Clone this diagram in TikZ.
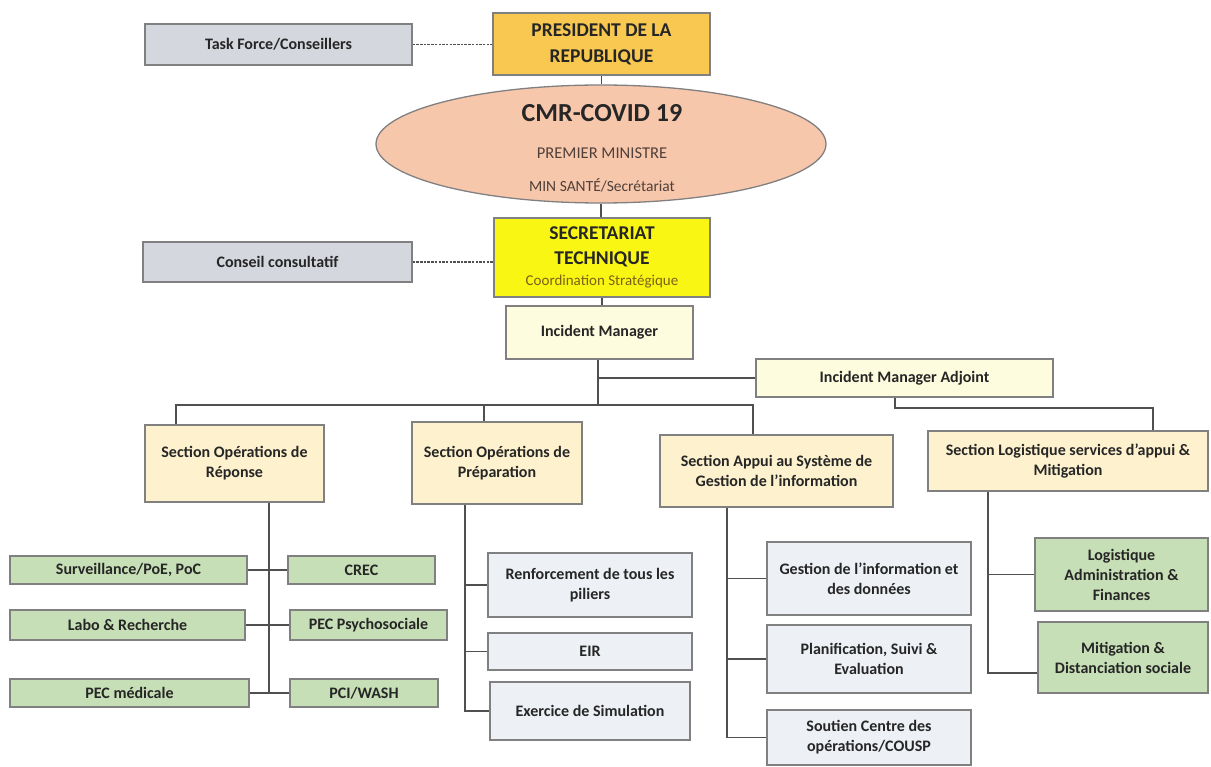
\documentclass[tikz,border=0pt]{standalone}
\usepackage{fontspec}
\setmainfont{Carlito}
\usetikzlibrary{shapes.geometric}
\definecolor{bordergray}{RGB}{128,128,128}
\definecolor{linegray}{RGB}{80,80,80}
\definecolor{txt}{RGB}{38,38,38}
\definecolor{grayfill}{RGB}{212,215,221}
\definecolor{presfill}{RGB}{248,200,80}
\definecolor{ellfill}{RGB}{247,199,172}
\definecolor{secfill}{RGB}{250,246,20}
\definecolor{imfill}{RGB}{253,252,222}
\definecolor{sectfill}{RGB}{253,241,206}
\definecolor{greenfill}{RGB}{199,223,182}
\definecolor{bluefill}{RGB}{237,240,245}
\definecolor{coordtxt}{RGB}{122,98,20}
\definecolor{ministxt}{RGB}{80,64,58}
\pgfdeclarelayer{background}
\pgfsetlayers{background,main}
\begin{document}
\begin{tikzpicture}[x=1pt,y=-1pt,
  box/.style={draw=bordergray,line width=1.3pt,inner sep=0pt,align=center,text=txt,
    font=\fontsize{16}{20}\selectfont\bfseries},
  sz/.style 2 args={minimum width=#1pt,minimum height=#2pt},
  conn/.style={draw=linegray,line width=1.8pt},
  dconn/.style={draw=linegray,line width=1.3pt,dash pattern=on 2.5pt off 1.2pt}]
\useasboundingbox (0,0) rectangle (1211,767);

% top level
\node[box,fill=grayfill,sz={267}{41}] (tf) at (278.5,44.5) {Task Force/Conseillers};
\node[box,fill=presfill,sz={217}{62},font=\fontsize{19.5}{26}\selectfont\bfseries] (pres) at (601.5,44) {PRESIDENT DE LA\\REPUBLIQUE};
\node[ellipse,draw=bordergray,line width=1.3pt,fill=ellfill,sz={450}{118},inner sep=0pt] (ell) at (601,144) {};
\node[text=txt,font=\fontsize{26}{30}\selectfont\bfseries] (cmr) at (602,113) {CMR-COVID 19};
\node[text=ministxt,font=\fontsize{16.5}{20}\selectfont] (pm) at (602,153) {PREMIER MINISTRE};
\node[text=ministxt,font=\fontsize{15.5}{20}\selectfont] (msante) at (602,185) {MIN SANTÉ/Secrétariat};
\node[box,fill=grayfill,sz={269}{40}] (cons) at (277.5,262) {Conseil consultatif};
\node[box,fill=secfill,sz={216}{79},font=\fontsize{19.5}{25}\selectfont\bfseries] (sec) at (602,257.5)
  {SECRETARIAT\\TECHNIQUE\\[-4pt]{\fontsize{15}{18}\selectfont\mdseries\color{coordtxt}Coordination Stratégique}};
\node[box,fill=imfill,sz={187}{53}] (im) at (599.5,332.5) {Incident Manager};
\node[box,fill=imfill,sz={297}{38}] (adj) at (904.5,378) {Incident Manager Adjoint};

% sections
\node[box,fill=sectfill,sz={179}{77}] (s1) at (234.5,463.5) {Section Opérations de\\Réponse};
\node[box,fill=sectfill,sz={170}{82}] (s2) at (497,463) {Section Opérations de\\Préparation};
\node[box,fill=sectfill,sz={233}{72}] (s3) at (776.5,471) {Section Appui au Système de\\Gestion de l’information};
\node[box,fill=sectfill,sz={280}{60}] (s4) at (1068,461) {Section Logistique services d’appui \&\\Mitigation};

% section 1 children
\node[box,fill=greenfill,sz={237}{28}] (surv) at (128.5,570) {Surveillance/PoE, PoC};
\node[box,fill=greenfill,sz={147}{28}] (crec) at (361.5,570) {CREC};
\node[box,fill=greenfill,sz={235}{30}] (labo) at (127.5,625) {Labo \& Recherche};
\node[box,fill=greenfill,sz={157}{30}] (psy) at (368.5,625) {PEC Psychosociale};
\node[box,fill=greenfill,sz={239}{28}] (med) at (129.5,693) {PEC médicale};
\node[box,fill=greenfill,sz={148}{28}] (pci) at (364,693) {PCI/WASH};

% section 2 children
\node[box,fill=bluefill,sz={204}{64}] (renf) at (590,585) {Renforcement de tous les\\piliers};
\node[box,fill=bluefill,sz={204}{37}] (eir) at (590,651.5) {EIR};
\node[box,fill=bluefill,sz={200}{58}] (exer) at (590,711) {Exercice de Simulation};

% section 3 children
\node[box,fill=bluefill,sz={204}{73}] (gest) at (869,578.5) {Gestion de l’information et\\des données};
\node[box,fill=bluefill,sz={204}{68}] (plan) at (869,659) {Planification, Suivi \&\\Evaluation};
\node[box,fill=bluefill,sz={204}{55}] (sout) at (869,737.5) {Soutien Centre des\\opérations/COUSP};

% section 4 children
\node[box,fill=greenfill,sz={173}{73}] (logi) at (1121.5,574.5) {Logistique\\Administration \&\\Finances};
\node[box,fill=greenfill,sz={170}{71}] (miti) at (1123,657.5) {Mitigation \&\\Distanciation sociale};

% connectors
\coordinate (j0) at (598,405);
\coordinate (b1) at (176,405);
\coordinate (b2) at (484,405);
\coordinate (b3) at (753,405);
\coordinate (a1) at (895,408);
\coordinate (a2) at (1153,408);
\coordinate (v1) at (269,0);
\coordinate (v2) at (465,0);
\coordinate (v3) at (727,0);
\coordinate (v4) at (988,0);
\coordinate (m4) at (988,673);

\begin{pgfonlayer}{background}
\draw[dconn] (tf.east) -- (tf.east -| pres.west);
\draw[dconn] (cons.east) -- (cons.east -| sec.west);
\draw[conn] (pres.south) -- (pres.south |- ell.north);
\draw[conn] (ell.south) -- (ell.south |- sec.north);
\draw[conn] (sec.south) -- (sec.south |- im.north);
\draw[conn] (j0 |- im.south) -- (j0);
\draw[conn] (j0 |- adj.west) -- (adj.west);
\draw[conn] (b1 |- s1.north) -- (b1) -- (b3) -- (b3 |- s3.north);
\draw[conn] (b2) -- (b2 |- s2.north);
\draw[conn] (a1 |- adj.south) -- (a1) -- (a2) -- (a2 |- s4.north);

\draw[conn] (v1 |- s1.south) -- (v1 |- med.east);
\draw[conn] (surv.east) -- (crec.west);
\draw[conn] (labo.east) -- (psy.west);
\draw[conn] (med.east) -- (pci.west);

\draw[conn] (v2 |- s2.south) -- (v2 |- exer.west) -- (exer.west);
\draw[conn] (v2 |- renf.west) -- (renf.west);
\draw[conn] (v2 |- eir.west) -- (eir.west);

\draw[conn] (v3 |- s3.south) -- (v3 |- sout.west) -- (sout.west);
\draw[conn] (v3 |- gest.west) -- (gest.west);
\draw[conn] (v3 |- plan.west) -- (plan.west);

\draw[conn] (v4 |- s4.south) -- (m4) -- (m4 -| miti.west);
\draw[conn] (v4 |- logi.west) -- (logi.west);
\end{pgfonlayer}
\end{tikzpicture}
\end{document}
